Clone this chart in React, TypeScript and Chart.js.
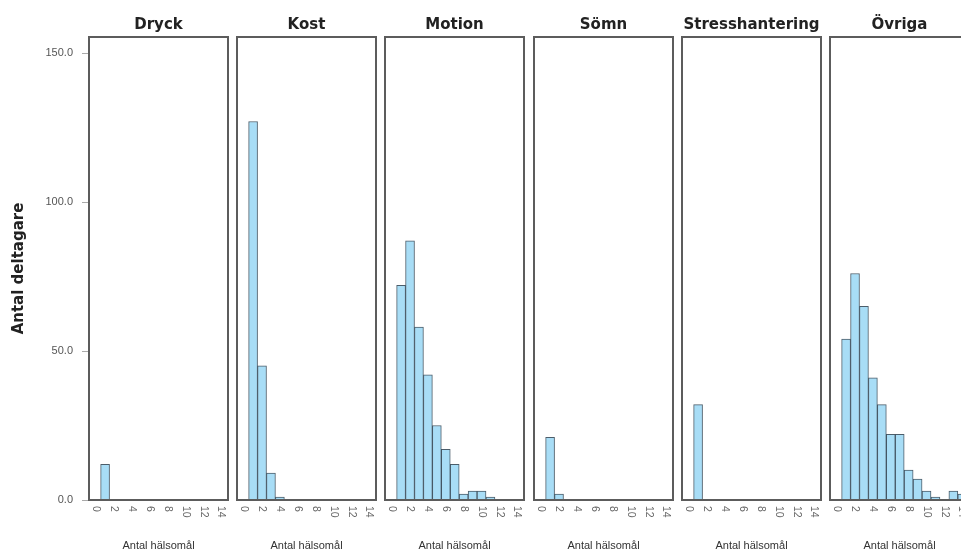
import React, { useEffect, useRef } from "react";
import { Chart, registerables } from "chart.js";

Chart.register(...registerables);

// ---- data ----
const panelTitles = ["Dryck", "Kost", "Motion", "Sömn", "Stresshantering", "Övriga"];
const bins = [0, 1, 2, 3, 4, 5, 6, 7, 8, 9, 10, 11, 12, 13, 14];
const dryck = [0, 12, 0, 0, 0, 0, 0, 0, 0, 0, 0, 0, 0, 0, 0];
const kost = [0, 127, 45, 9, 1, 0, 0, 0, 0, 0, 0, 0, 0, 0, 0];
const motion = [0, 72, 87, 58, 42, 25, 17, 12, 2, 3, 3, 1, 0, 0, 0];
const somn = [0, 21, 2, 0, 0, 0, 0, 0, 0, 0, 0, 0, 0, 0, 0];
const stress = [0, 32, 0, 0, 0, 0, 0, 0, 0, 0, 0, 0, 0, 0, 0];
const ovriga = [0, 54, 76, 65, 41, 32, 22, 22, 10, 7, 3, 1, 0, 3, 2];
const seriesValues = [dryck, kost, motion, somn, stress, ovriga];
const xTickValues = [0, 2, 4, 6, 8, 10, 12, 14];
const yTickValues = [0, 50, 100, 150];
const yAxisTitle = "Antal deltagare";
const xAxisTitle = "Antal hälsomål";

// ---- layout ----
const PANEL_LEFTS = [89, 237, 385, 534, 682, 830];
const PANEL_W = 139;
const AREA_TOP = 37;
const H = 551;
const X_AXIS_H = 51;
const Y_AXIS_W = 89;
const Y_MAX = 155.37;
const X_MIN = -0.8;
const X_MAX = 14.75;

function makeDeco(title: string) {
  return {
    id: "panelDeco",
    afterDatasetsDraw(chart: any) {
      const { ctx, chartArea: a, scales } = chart;
      ctx.save();
      ctx.strokeStyle = "#5c5c5c";
      ctx.lineWidth = 2;
      ctx.strokeRect(a.left, a.top, a.right - a.left, a.bottom - a.top);
      ctx.fillStyle = "#222";
      ctx.font = 'bold 15px "DejaVu Sans", Verdana, sans-serif';
      ctx.textAlign = "center";
      ctx.textBaseline = "alphabetic";
      ctx.fillText(title, (a.left + a.right) / 2, 29);
      ctx.font = '10.5px "Liberation Sans", Arial, sans-serif';
      ctx.fillStyle = "#666";
      for (const v of xTickValues) {
        const px = scales.x.getPixelForValue(v);
        ctx.save();
        ctx.translate(px, a.bottom + 6);
        ctx.rotate(Math.PI / 2);
        ctx.textAlign = "left";
        ctx.textBaseline = "middle";
        ctx.fillText(String(v), 0, 0);
        ctx.restore();
      }
      ctx.restore();
    },
  };
}

function Panel({ index }: { index: number }) {
  const ref = useRef<HTMLCanvasElement | null>(null);
  const first = index === 0;
  const canvasLeft = first ? 0 : PANEL_LEFTS[index] - 4;
  const canvasW = first ? PANEL_LEFTS[0] + PANEL_W + 4 : PANEL_W + 8;

  useEffect(() => {
    if (!ref.current) return;
    const vals = seriesValues[index];
    const chart = new Chart(ref.current, {
      type: "bar",
      data: {
        datasets: [
          {
            data: bins.map((b, j) => ({ x: b, y: vals[j] === 0 ? null : vals[j] })) as any,
            backgroundColor: "#a8ddf6",
            borderColor: "rgba(45,65,80,0.85)",
            borderWidth: 1,
            barPercentage: 1,
            categoryPercentage: 1,
          },
        ],
      },
      options: {
        responsive: false,
        animation: false,
        events: [],
        layout: { padding: { top: AREA_TOP, bottom: 0, left: first ? 0 : 4, right: 4 } },
        plugins: { legend: { display: false }, tooltip: { enabled: false }, title: { display: false } },
        scales: {
          x: {
            type: "linear",
            min: X_MIN,
            max: X_MAX,
            offset: false,
            ticks: { display: false },
            grid: { display: false },
            border: { display: false },
            afterFit: (s: any) => {
              s.height = X_AXIS_H;
            },
            title: {
              display: true,
              text: xAxisTitle,
              color: "#333",
              font: { family: '"Liberation Sans", Arial, sans-serif', size: 11 },
              padding: { top: 0, bottom: -2 },
            },
          },
          y: first
            ? {
                min: 0,
                max: Y_MAX,
                afterBuildTicks: (s: any) => {
                  s.ticks = yTickValues.map((v) => ({ value: v }));
                },
                afterFit: (s: any) => {
                  s.width = Y_AXIS_W;
                },
                ticks: {
                  callback: (v: any) => Number(v).toFixed(1),
                  color: "#555",
                  font: { family: '"Liberation Sans", Arial, sans-serif', size: 11 },
                  padding: 9,
                },
                grid: { drawOnChartArea: false, drawTicks: true, tickLength: 7, color: "#aaa" },
                border: { display: false },
                title: {
                  display: true,
                  text: yAxisTitle,
                  color: "#222",
                  font: { family: '"DejaVu Sans", Verdana, sans-serif', size: 15, weight: "bold" },
                  padding: { top: 10, bottom: 0 },
                },
              }
            : { display: false, min: 0, max: Y_MAX },
        },
      } as any,
      plugins: [makeDeco(panelTitles[index])],
    });
    return () => chart.destroy();
  }, [index]);

  return (
    <canvas
      ref={ref}
      width={canvasW}
      height={H}
      style={{ position: "absolute", left: canvasLeft, top: 0, width: canvasW, height: H }}
    />
  );
}

export default function App() {
  return (
    <div
      style={{
        position: "fixed",
        left: 0,
        top: 0,
        width: 961,
        height: 551,
        overflow: "hidden",
        background: "#fff",
      }}
    >
      {panelTitles.map((_, i) => (
        <Panel key={i} index={i} />
      ))}
    </div>
  );
}
